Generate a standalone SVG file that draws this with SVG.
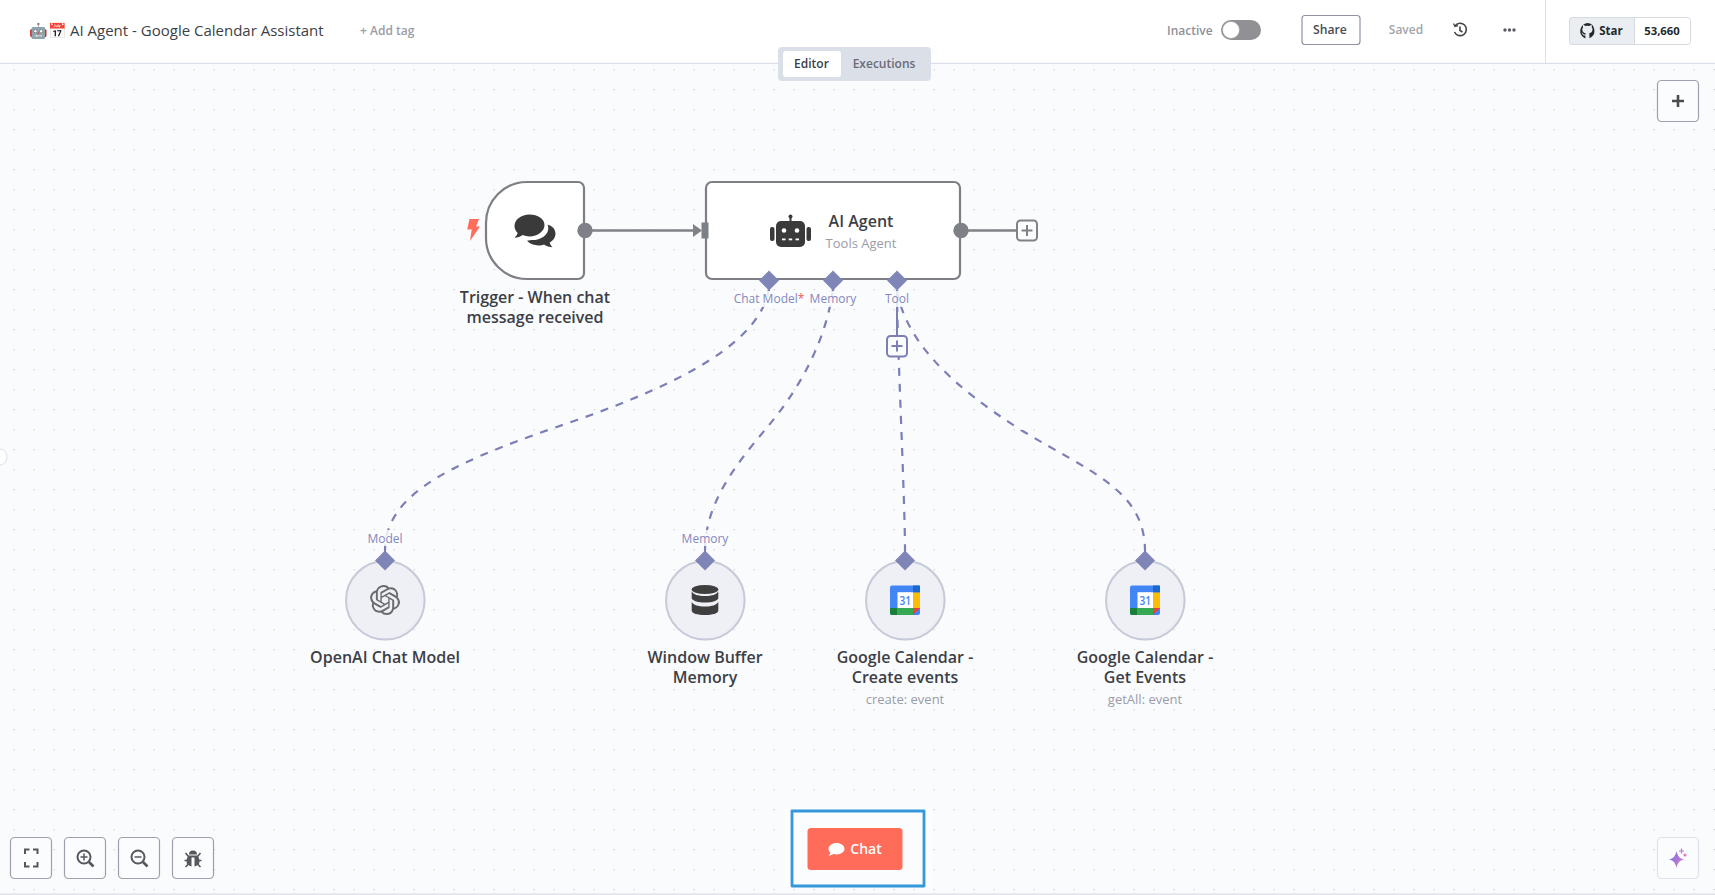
<svg xmlns="http://www.w3.org/2000/svg" width="1715" height="895" viewBox="0 0 1715 895">
<style>
text{font-family:"Open Sans","Noto Sans","Liberation Sans",sans-serif}
.nt{font-size:16px;font-weight:600;fill:#3d3f46;text-anchor:middle}
.sub{font-size:13px;fill:#9a9ca8;text-anchor:middle}
.pl{font-size:12px;fill:#8288bd;text-anchor:middle}
.btn{fill:#fbfcfe;stroke:#9da1ae;stroke-width:1.2}
.ic{fill:#55575d}
.dia{fill:#8085b8}
.mc{fill:#eff0f5;stroke:#c5c9d8;stroke-width:2}
.dash{fill:none;stroke:#7b7fb5;stroke-width:2.2;stroke-dasharray:8 8}
.lab{fill:#fafbfd;fill-opacity:.85}
</style>
<defs>
<pattern id="dots" x="0" y="0" width="20" height="20" patternUnits="userSpaceOnUse"><rect x="13.7" y="9" width="1.2" height="1.2" fill="#c8cbd1"/></pattern>
<linearGradient id="sp" x1="0" y1="0" x2="1" y2="1"><stop offset="0" stop-color="#6f6ff0"/><stop offset="1" stop-color="#e37cc0"/></linearGradient>
<g id="cal">
<rect x="0" y="0" width="30" height="29.5" rx="2" fill="#4285f4"/>
<rect x="23" y="0" width="7" height="7" fill="#1967d2"/>
<rect x="23" y="7" width="7" height="15.500" fill="#fbbc04"/>
<rect x="7" y="22.500" width="16" height="7" fill="#34a853"/>
<path d="M0 22.500h7v7H2a2 2 0 0 1-2-2z" fill="#188038"/>
<path d="M23 22.500h7L23 29.500z" fill="#ea4335"/>
<rect x="7.500" y="6.700" width="15.500" height="15.800" fill="#fff"/>
<text x="15.200" y="19.600" font-size="12.500" font-weight="600" fill="#4285f4" text-anchor="middle" textLength="11.500" lengthAdjust="spacingAndGlyphs">31</text>
</g>
</defs>
<rect width="1715" height="895" fill="#fafbfd"/>
<rect width="1715" height="895" fill="url(#dots)"/>
<rect y="893.500" width="1715" height="1.500" fill="#dfe1ea"/>
<path d="M0 449a7 8 0 0 1 0 16" fill="#fff" stroke="#dfe1ea"/>

<g id="header">
<rect width="1715" height="63" fill="#fff"/>
<rect y="62.800" width="1715" height="1.200" fill="#dbdfe9"/>
<rect x="1545" y="0" width="1" height="63" fill="#dbdfe9"/>
<text x="29" y="36" font-size="15" fill="#3d3f46">🤖📅 <tspan x="70">AI Agent - Google Calendar Assistant</tspan></text>
<text x="360" y="35" font-size="12" font-weight="600" fill="#9b9ca4">+ Add tag</text>
<text x="1167" y="35" font-size="12" font-weight="600" fill="#8f9099">Inactive</text>
<rect x="1221" y="20" width="40" height="20" rx="10" fill="#909095"/>
<circle cx="1231" cy="30" r="8.500" fill="#fff" stroke="#909095" stroke-width=".5"/>
<rect x="1302" y="15.500" width="58" height="29" rx="3" fill="#fff" stroke="#8f93a3" stroke-width="1.200"/>
<text x="1330" y="34" font-size="12.200" font-weight="600" fill="#4a4c55" text-anchor="middle">Share</text>
<text x="1406" y="34" font-size="12" font-weight="600" fill="#a3a4aa" text-anchor="middle">Saved</text>
<g fill="none" stroke="#444" stroke-width="1.600"><path d="M1455 26a6.200 6.200 0 1 1-.5 6"/><path d="M1460 26.500v4l2.500 1.500"/><path d="M1453.500 23.500l1.500 3 3-.8" stroke-width="1.300"/></g>
<g fill="#5a5c63"><circle cx="1505" cy="30" r="1.700"/><circle cx="1509.500" cy="30" r="1.700"/><circle cx="1514" cy="30" r="1.700"/></g>
<rect x="1569.500" y="17.500" width="121" height="27" rx="3" fill="#fff" stroke="#d5dae0"/>
<path d="M1572.500 17.500H1634.500V44.500H1572.500a3 3 0 0 1-3-3V20.500a3 3 0 0 1 3-3z" fill="#eaeef2" stroke="#d5dae0"/>
<path d="M1588 23a8 8 0 0 0-2.600 15.500v-3c-2.200.5-2.700-1-2.700-1-.4-1-.9-1.200-.9-1.200-.8-.5 0-.5 0-.5.8 0 1.300.9 1.300.9.700 1.200 1.900.9 2.300.7.100-.5.300-.9.500-1.100-1.800-.2-3.600-.9-3.600-4 0-.9.300-1.600.8-2.100-.1-.2-.4-1 .1-2.100 0 0 .7-.2 2.200.8a7.700 7.700 0 0 1 4 0c1.500-1 2.200-.8 2.200-.8.400 1.100.200 1.900.1 2.100.500.5.800 1.200.8 2.100 0 3.100-1.900 3.800-3.600 4 .3.200.500.700.500 1.500v3.500A8 8 0 0 0 1588 23z" fill="#24292e"/>
<text x="1611" y="35" font-size="11.500" font-weight="700" fill="#24292e" text-anchor="middle">Star</text>
<text x="1662" y="35" font-size="11.300" font-weight="700" fill="#24292e" text-anchor="middle">53,660</text>
</g>

<g id="tabs">
<rect x="778" y="47" width="153" height="34" rx="4" fill="#dbdfe7"/>
<rect x="783" y="51" width="58" height="26" rx="3" fill="#fff"/>
<text x="811.500" y="68" font-size="12" font-weight="600" fill="#3d3f46" text-anchor="middle">Editor</text>
<text x="884" y="68" font-size="12" font-weight="600" fill="#6a6c75" text-anchor="middle">Executions</text>
</g>

<g id="zoom-add"><rect class="btn" x="1657.500" y="80.500" width="41" height="41" rx="4"/><path d="M1672 101h12M1678 95v12" stroke="#4a4c52" stroke-width="2.600"/></g>

<g id="connectors">
<path d="M585 230.500H695" fill="none" stroke="#7f8286" stroke-width="2.400"/>
<path d="M693 224L702 230.500L693 237z" fill="#7f8286"/>
<path d="M961 230.500H1017" fill="none" stroke="#7f8286" stroke-width="2.400"/>
<path class="dash" d="M769 289C760 340 690 380 577 420C460 460 385 490 385 551"/>
<path class="dash" d="M833 289C825 350 790 400 769 425C740 460 705 500 705 551"/>
<path class="dash" stroke-dashoffset="2" d="M897 290C897 340 905 500 905 551"/>
<path class="dash" d="M897 290C905 340 950 385 1021 430C1090 472 1145 490 1145 551"/>
<path d="M897 290V336" fill="none" stroke="#7b7fb5" stroke-width="2"/>
<g stroke="#7b7fb5" stroke-width="2"><path d="M769 280V292"/><path d="M833 280V292"/><path d="M385 545V560"/><path d="M705 545V560"/><path d="M905 545V560"/><path d="M1145 545V560"/></g>
</g>

<g id="plus-out"><rect x="1017" y="220.500" width="20" height="20" rx="3.500" fill="#fbfcfe" stroke="#7f8286" stroke-width="2"/><path d="M1021.500 230.500h11M1027 225v11" stroke="#7f8286" stroke-width="2"/></g>
<g id="plus-tool"><rect x="887" y="336" width="20" height="20.500" rx="3.500" fill="#fbfcfe" stroke="#7b7fb5" stroke-width="2"/><path d="M891.500 346h11M897 340.500v11" stroke="#7b7fb5" stroke-width="2"/></g>

<g id="node-trigger">
<path d="M527 182H578a6 6 0 0 1 6 6V273a6 6 0 0 1-6 6H527A41 41 0 0 1 486 238V223A41 41 0 0 1 527 182z" fill="#fff" stroke="#7d7f85" stroke-width="2.200"/>
<path d="M469.500 219h9.500l-3 7.500h4l-10 14.500 1.700-11.500h-4.500z" fill="#ff6d5a"/>
<path d="M529.500 214.500c-8.300 0-15 5.200-15 11.500 0 2.600 1.200 5.200 3.200 7.100-.5 1.600-1.700 3.400-3.200 4.600 3.200 0 6-1 8.300-2.600 2 .8 4.300 1.300 6.700 1.300 8.300 0 15-5.200 15-11.400s-6.700-10.500-15-10.500z" fill="#3a3a3a"/>
<path d="M547.500 224.500c1 2 1.200 5 0 7.500-2.500 5.200-9 8.500-16 8l-4.500 .8c2.500 2.800 7 4.700 11.500 4.700 2 0 4-.4 5.500-1 2.500 1.700 5.500 2.600 8.500 2.800-1.300-1.200-2.500-3.200-2.800-4.700 3.700-2.100 5.800-5.300 5.800-8.800 0-4.300-2.800-7.800-8-9.300z" fill="#3a3a3a"/>
<circle cx="585" cy="230.500" r="7.700" fill="#7d8086"/>
<text class="nt" x="535" y="302.500">Trigger - When chat</text>
<text class="nt" x="535" y="322.500">message received</text>
</g>

<g id="node-agent">
<rect x="706" y="182" width="254" height="97" rx="6" fill="#fff" stroke="#7d7f85" stroke-width="2.200"/>
<rect x="701.500" y="222.500" width="7" height="16" fill="#7d8086"/>
<circle cx="961" cy="230.500" r="7.700" fill="#7d8086"/>
<g fill="#3a3a3a">
<rect x="776" y="221" width="29" height="26" rx="5"/>
<rect x="770" y="227" width="4.500" height="14" rx="2"/><rect x="806.500" y="227" width="4.500" height="14" rx="2"/>
<rect x="789.500" y="216" width="2" height="6"/><circle cx="790.500" cy="216.500" r="2"/>
</g>
<g fill="#fff"><circle cx="784" cy="230.500" r="2.300"/><circle cx="797" cy="230.500" r="2.300"/><rect x="782" y="238.500" width="3.500" height="1.800"/><rect x="788.700" y="238.500" width="3.500" height="1.800"/><rect x="795.500" y="238.500" width="3.500" height="1.800"/></g>
<text x="861" y="226.500" font-size="16" font-weight="600" fill="#3d3f46" text-anchor="middle">AI Agent</text>
<text class="sub" x="861" y="247.500">Tools Agent</text>
<rect class="lab" x="734" y="291" width="72" height="16"/>
<rect class="lab" x="809" y="291" width="48" height="16"/>
<rect class="lab" x="885" y="291" width="24" height="16"/>
<path class="dia" d="M769 270.500l10 10-10 10-10-10z"/><path class="dia" d="M833 270.500l10 10-10 10-10-10z"/><path class="dia" d="M897 270.500l10 10-10 10-10-10z"/>
<text class="pl" x="769" y="302.500">Chat Model<tspan fill="#f0544f">*</tspan></text>
<text class="pl" x="833" y="302.500">Memory</text>
<text class="pl" x="897" y="302.500">Tool</text>
</g>

<g id="node-openai">
<circle class="mc" cx="385.300" cy="600.300" r="39.300"/>
<path transform="translate(370 585) scale(1.250)" fill="#6a6a6f" d="M22.2819 9.8211a5.9847 5.9847 0 0 0-.5157-4.9108 6.0462 6.0462 0 0 0-6.5098-2.9A6.0651 6.0651 0 0 0 4.9807 4.1818a5.9847 5.9847 0 0 0-3.9977 2.9 6.0462 6.0462 0 0 0 .7427 7.0966 5.98 5.98 0 0 0 .511 4.9107 6.051 6.051 0 0 0 6.5146 2.9001A5.9847 5.9847 0 0 0 13.2599 24a6.0557 6.0557 0 0 0 5.7718-4.2058 5.9894 5.9894 0 0 0 3.9977-2.9001 6.0557 6.0557 0 0 0-.7475-7.0729zm-9.022 12.6081a4.4755 4.4755 0 0 1-2.8764-1.0408l.1419-.0804 4.7783-2.7582a.7948.7948 0 0 0 .3927-.6813v-6.7369l2.02 1.1686a.071.071 0 0 1 .038.052v5.5826a4.504 4.504 0 0 1-4.4945 4.4944zm-9.6607-4.1254a4.4708 4.4708 0 0 1-.5346-3.0137l.142.0852 4.783 2.7582a.7712.7712 0 0 0 .7806 0l5.8428-3.3685v2.3324a.0804.0804 0 0 1-.0332.0615L9.74 19.9502a4.4992 4.4992 0 0 1-6.1408-1.6464zM2.3408 7.8956a4.485 4.485 0 0 1 2.3655-1.9728V11.6a.7664.7664 0 0 0 .3879.6765l5.8144 3.3543-2.0201 1.1685a.0757.0757 0 0 1-.071 0l-4.8303-2.7865A4.504 4.504 0 0 1 2.3408 7.872zm16.5963 3.8558L13.1038 8.364 15.1192 7.2a.0757.0757 0 0 1 .071 0l4.8303 2.7913a4.4944 4.4944 0 0 1-.6765 8.1042v-5.6772a.79.79 0 0 0-.407-.667zm2.0107-3.0231l-.142-.0852-4.7735-2.7818a.7759.7759 0 0 0-.7854 0L9.409 9.2297V6.8974a.0662.0662 0 0 1 .0284-.0615l4.8303-2.7866a4.4992 4.4992 0 0 1 6.6802 4.66zM8.3065 12.863l-2.02-1.1638a.0804.0804 0 0 1-.038-.0567V6.0742a4.4992 4.4992 0 0 1 7.3757-3.4537l-.142.0805L8.704 5.459a.7948.7948 0 0 0-.3927.6813zm1.0976-2.3654l2.602-1.4998 2.6069 1.4998v2.9994l-2.5974 1.4997-2.6067-1.4997Z"/>
<rect class="lab" x="366" y="530" width="38" height="16"/>
<path class="dia" d="M385 550.500l10 10-10 10-10-10z"/>
<text class="pl" x="385" y="542.500">Model</text>
<text class="nt" x="385" y="662.500">OpenAI Chat Model</text>
</g>

<g id="node-memory">
<circle class="mc" cx="705.300" cy="600.300" r="39.300"/>
<g fill="#3f3f3f"><ellipse cx="705" cy="589.500" rx="13.300" ry="4.500"/>
<path d="M691.700 591.500c2 3 6 4.500 13.300 4.500s11.300-1.500 13.300-4.500v7c-2 2.800-6 4-13.300 4s-11.300-1.200-13.300-4z"/>
<path d="M691.700 602c2 3 6 4.500 13.300 4.500s11.300-1.500 13.300-4.500v8.500c0 3-6 4.500-13.300 4.500s-13.300-1.500-13.300-4.500z"/></g>
<rect class="lab" x="681" y="530" width="48" height="16"/>
<path class="dia" d="M705 550.500l10 10-10 10-10-10z"/>
<text class="pl" x="705" y="542.500">Memory</text>
<text class="nt" x="705" y="662.500">Window Buffer</text>
<text class="nt" x="705" y="682.500">Memory</text>
</g>

<g id="node-cal-create">
<circle class="mc" cx="905.300" cy="600.300" r="39.300"/>
<use href="#cal" x="890" y="585.500"/>
<path class="dia" d="M905 550.500l10 10-10 10-10-10z"/>
<text class="nt" x="905" y="662.500">Google Calendar -</text>
<text class="nt" x="905" y="682.500">Create events</text>
<text class="sub" x="905" y="704">create: event</text>
</g>

<g id="node-cal-get">
<circle class="mc" cx="1145.300" cy="600.300" r="39.300"/>
<use href="#cal" x="1130" y="585.500"/>
<path class="dia" d="M1145 550.500l10 10-10 10-10-10z"/>
<text class="nt" x="1145" y="662.500">Google Calendar -</text>
<text class="nt" x="1145" y="682.500">Get Events</text>
<text class="sub" x="1145" y="704">getAll: event</text>
</g>

<g id="controls">
<rect class="btn" x="10.500" y="837.500" width="41" height="41" rx="4"/>
<path d="M25 854v-4.500h4.500M33 849.500h4.500v4.500M37.500 862v4.500H33M29.500 866.500H25V862" fill="none" stroke="#55575d" stroke-width="2"/>
<rect class="btn" x="64.500" y="837.500" width="41" height="41" rx="4"/>
<g fill="none" stroke="#55575d" stroke-width="2"><circle cx="84" cy="857" r="6.500"/><path d="M89 862l4.500 4.500" stroke-width="2.600"/><path d="M80.500 857h7M84 853.500v7" stroke-width="1.500"/></g>
<rect class="btn" x="118.500" y="837.500" width="41" height="41" rx="4"/>
<g fill="none" stroke="#55575d" stroke-width="2"><circle cx="138" cy="857" r="6.500"/><path d="M143 862l4.500 4.500" stroke-width="2.600"/><path d="M134.500 857h7" stroke-width="1.500"/></g>
<rect class="btn" x="172.500" y="837.500" width="41" height="41" rx="4"/>
<path class="ic" d="M189 854.500a4 4 0 0 1 8 0zM188.500 855.500h9c1.500 1.800 2 4 2 6 0 2.800-2 4.500-5 4.900V857.500h-3v8.900c-3-.4-5-2.100-5-4.900 0-2 .5-4.200 2-6z"/>
<path d="M185.500 853l3 3.500M200.500 853l-3 3.500M184.500 860.500h3M198.500 860.500h3M185.500 867l3-3M200.500 867l-3-3" stroke="#55575d" stroke-width="1.600" fill="none"/>
</g>

<g id="chat">
<rect x="784" y="808" width="148" height="79" fill="#fdfdfe"/>
<rect x="792" y="811" width="132" height="75" fill="#fbfcfe" stroke="#3498db" stroke-width="2.800" stroke-linejoin="round"/>
<rect x="807.500" y="828" width="95" height="42" rx="3.500" fill="#ff6d5a"/>
<path d="M836.500 843c-4.300 0-8 2.700-8 5.900 0 1.500.8 2.800 2 3.800-.3 1-1.200 2.300-2.200 2.800 2 0 4-.7 5.300-1.500.9.300 1.900.5 2.900.5 4.300 0 8-2.600 8-5.700s-3.700-5.800-8-5.800z" fill="#fff"/>
<text x="866" y="853.500" font-size="14" font-weight="600" fill="#fff" text-anchor="middle">Chat</text>
</g>

<g id="sparkle">
<rect x="1657.500" y="837.500" width="41" height="41" rx="4" fill="#fbfcfe" stroke="#dfe2ea" stroke-width="1.200"/>
<path d="M1676.500 851c1 5 3 7.500 7.500 8.500-4.500 1-6.500 3.500-7.500 8.500-1-5-3-7.500-7.500-8.500 4.500-1 6.500-3.500 7.500-8.500z" fill="url(#sp)"/>
<path d="M1681.500 848.500v5M1679 851h5" stroke="#b77ad9" stroke-width="1.200"/><circle cx="1685" cy="855" r="1.600" fill="#e07fc0"/>
</g>
</svg>
